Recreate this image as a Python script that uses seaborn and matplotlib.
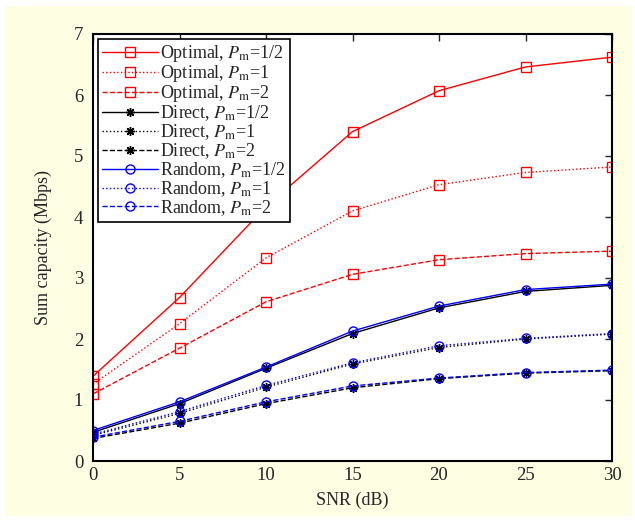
import pandas as pd
import seaborn as sns
import matplotlib.pyplot as plt
from matplotlib.patches import Rectangle

# datos
snr = [0, 5, 10, 15, 20, 25, 30]

optimal_half = [1.39, 2.68, 4.17, 5.40, 6.07, 6.46, 6.62]
optimal_one = [1.26, 2.25, 3.33, 4.10, 4.53, 4.73, 4.82]
optimal_two = [1.10, 1.85, 2.61, 3.06, 3.30, 3.40, 3.44]

direct_half = [0.47, 0.94, 1.52, 2.09, 2.51, 2.78, 2.88]
direct_one = [0.42, 0.78, 1.21, 1.59, 1.86, 2.00, 2.08]
direct_two = [0.37, 0.62, 0.94, 1.20, 1.35, 1.44, 1.48]

random_half = [0.50, 0.97, 1.54, 2.13, 2.54, 2.81, 2.90]
random_one = [0.44, 0.81, 1.24, 1.61, 1.89, 2.01, 2.09]
random_two = [0.39, 0.65, 0.97, 1.23, 1.36, 1.45, 1.49]

labels = [
    "Optimal, $P_{\\mathrm{m}}$=1/2", "Optimal, $P_{\\mathrm{m}}$=1", "Optimal, $P_{\\mathrm{m}}$=2",
    "Direct, $P_{\\mathrm{m}}$=1/2", "Direct, $P_{\\mathrm{m}}$=1", "Direct, $P_{\\mathrm{m}}$=2",
    "Random, $P_{\\mathrm{m}}$=1/2", "Random, $P_{\\mathrm{m}}$=1", "Random, $P_{\\mathrm{m}}$=2",
]
series = [optimal_half, optimal_one, optimal_two,
          direct_half, direct_one, direct_two,
          random_half, random_one, random_two]

sns.set_style("white")
plt.rcParams['font.family'] = ['Liberation Serif', 'DejaVu Serif']
plt.rcParams['mathtext.fontset'] = 'stix'
plt.rcParams['xtick.direction'] = 'in'
plt.rcParams['ytick.direction'] = 'in'

fig = plt.figure(figsize=(6.35, 5.2), dpi=100, facecolor='white')
fig.patches.append(Rectangle((5 / 635, 4 / 520), 627 / 635, 510 / 520,
                             transform=fig.transFigure, facecolor='#fefee3',
                             edgecolor='none', zorder=-10))
ax = fig.add_axes([93 / 635, 59 / 520, 519 / 635, 427 / 520])
ax.set_facecolor('white')

colores = ['red', 'red', 'red', 'black', 'black', 'black', 'blue', 'blue', 'blue']
marcadores = ['s', 's', 's', (8, 2, 0), (8, 2, 0), (8, 2, 0), 'o', 'o', 'o']
estilos = ['-', ':', '--', '-', ':', '--', '-', ':', '--']

for i in range(len(series)):
    df = pd.DataFrame({'SNR': snr, 'Capacidad': series[i]})
    sns.lineplot(data=df, x='SNR', y='Capacidad', ax=ax, errorbar=None,
                 color=colores[i], linestyle=estilos[i], linewidth=1.0,
                 marker=marcadores[i], markersize=6.5,
                 markerfacecolor='none', markeredgecolor=colores[i],
                 markeredgewidth=1.0, label=labels[i])

ax.set_xlim(0, 30)
ax.set_ylim(0, 7)
ax.set_xticks(range(0, 31, 5))
ax.set_yticks(range(0, 8))
ax.tick_params(axis='both', labelsize=13.5, length=5, width=1, top=True, right=True)
ax.tick_params(axis='x', pad=4)
ax.tick_params(axis='y', pad=7)
for s in ax.spines.values():
    s.set_linewidth(1.5)
    s.set_color('black')

ax.set_xlabel("SNR (dB)", fontsize=13, labelpad=6)
ax.set_ylabel("Sum capacity (Mbps)", fontsize=13, labelpad=16)

leg = ax.legend(loc='upper left', fontsize=13, frameon=True, fancybox=False,
                edgecolor='black', framealpha=1, borderaxespad=0.25,
                handlelength=3.1, handletextpad=0.1, labelspacing=-0.05,
                borderpad=0.25)
leg.get_frame().set_linewidth(1.2)

fig.savefig("out.png", dpi=100, facecolor=fig.get_facecolor())
